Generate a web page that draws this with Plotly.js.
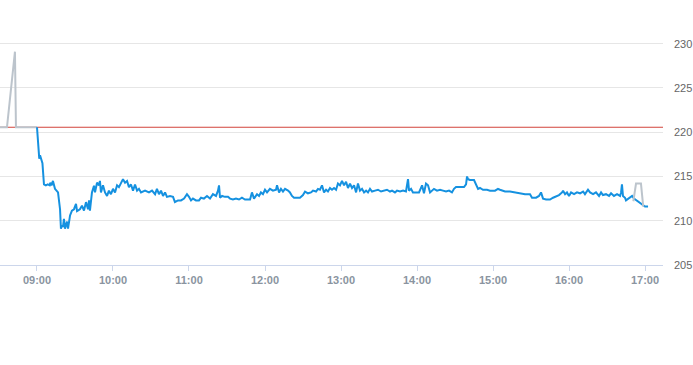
<!DOCTYPE html>
<html>
<head>
<meta charset="utf-8">
<script src="https://cdn.plot.ly/plotly-3.0.1.min.js"></script>
<style>html,body{margin:0;padding:0;background:#fff;}#chart{width:693px;height:365px;}</style>
</head>
<body>
<div id="chart"></div>
<script>
// minutes relative to 09:00
const preMinutes = [-29.2, -23.7, -17.4, -16.6, 0];
const preValues  = [220.56, 220.56, 229.1, 220.56, 220.56];

const postMinutes = [470.8, 472.9, 476.8, 478.6];
const postValues  = [212.2, 214.2, 214.2, 211.6];

const sessionMinutes = [0,0.8,1.8,2.4,3.5,4.3,5.5,7,8.5,10,10.5,11.5,12.6,13.5,14.2,16.6,17.5,18.2,18.9,19.7,20.5,21.3,22.1,23,23.7,24.5,26.1,27.6,29.2,30.8,31.6,33.9,35.5,37.1,38.7,40.3,41.1,41.8,43.4,45,45.8,47.4,48.9,49.7,50.5,52.1,53.7,55.3,56.8,58.4,60,61.6,63.2,64.7,66.3,67.9,69.5,71.1,72.6,74.2,75.8,77.4,79,80.5,82.1,85.3,88.4,90.8,93.2,94.7,96.3,97.9,99.5,101.1,102.6,105,107.4,108.9,111.3,113.7,116.1,118.4,120,121.6,123.1,125.5,
127.9,129.5,131.8,134.2,136.6,138.9,141.3,142.9,143.7,144.5,146.1,148.4,150.8,152.4,154.7,157.1,159.5,161.8,164.2,166.6,168.2,169.7,171.3,173.7,175.3,176.8,178.4,180,181.6,183.9,186.3,188.7,189.5,191.1,192.6,194.2,195.8,198.2,199.7,201.3,202.9,205.3,207.6,210,211.6,213.9,216.3,217.9,220.3,221.8,223.4,225,226.6,228.2,229.7,231.3,232.9,234.5,236.1,237.6,239.2,240.8,242.4,244,245.5,247.1,248.7,250.3,251.9,253.4,255,256.6,258.2,259.8,261.3,262.9,264.5,266.9,269.2,271.6,274,276.3,278.7,280.3,282.6,284.2,286.6,289,291.3,292.1,292.9,293.7,295.3,296.8,299.2,301.6,304,305.5,307.1,308.7,310.3,311.8,313.4,315.8,318.2,320.5,322.9,325.3,327.6,329.2,330.8,334,337.1,338.7,339.5,340.3,341.8,345,346.6,348.2,349.7,352.1,355.3,357.6,361.6,363.9,365.5,369.5,373.4,377.4,381.3,385.3,389.2,390.8,394,396.3,397.9,399.5,401.9,405,407.4,409.8,412.1,414.5,415.3,416.9,418.4,420,421.6,424,426.3,428.7,431.1,432.6,435,436.6,439,441.3,443.7,445.3,446.8,449.2,451.6,453.2,455.5,457.9,460.3,461.1,461.8,462.6,464.2,465,466.6,468.2,469.8,471.3,478.4,480,482.4];
const sessionValues = [220.56,219.0,217.0,217.4,216.9,216.5,214.1,214.0,214.1,214.0,214.3,214.0,214.5,213.9,213.6,213.2,212.3,211.3,209.1,209.5,209.3,210.2,209.1,209.6,209.9,209.1,210.6,211.15,211.3,211.9,211.1,211.3,211.7,211.15,212.1,211.3,212.3,211.15,213.2,213.96,213.2,214.3,214.0,214.5,213.2,214.0,213.2,212.8,213.4,213.0,213.6,213.2,214.0,213.8,214.3,214.7,214.3,214.5,213.8,214.1,213.4,214.1,213.4,213.6,213.2,213.4,213.2,213.4,213.0,213.6,213.0,213.4,212.8,213.2,212.7,212.8,212.7,212.1,212.3,212.3,212.5,213.0,212.7,212.3,212.5,212.3,
212.3,212.6,212.5,212.8,212.5,213.0,212.8,213.4,214.0,212.6,212.8,212.7,212.7,212.5,212.4,212.5,212.4,212.6,212.4,212.4,212.4,213.2,212.5,213.0,212.8,213.2,213.0,213.5,213.2,213.6,213.4,213.5,214.0,213.2,213.6,213.3,213.6,213.4,213.2,212.8,212.6,212.6,212.6,212.9,213.3,213.1,213.2,213.4,213.3,213.6,213.5,214.0,213.2,213.5,213.3,213.7,213.5,213.7,213.5,214.2,214.0,214.5,214.0,214.4,213.7,214.2,213.7,214.0,213.2,214.2,213.4,213.6,213.2,213.4,213.2,213.6,213.3,213.4,213.5,213.3,213.4,213.5,213.3,213.4,213.2,213.4,213.3,213.4,213.3,214.0,214.7,213.4,213.6,213.2,213.2,213.2,214.0,213.1,214.2,214.0,213.2,213.4,213.6,213.4,213.5,213.4,213.3,213.4,213.2,213.6,213.8,213.8,213.8,214.1,215.0,214.7,214.6,214.6,214.0,213.6,213.7,213.5,213.5,213.4,213.4,213.6,213.5,213.3,213.3,213.2,213.1,213.0,213.0,212.6,212.6,212.8,213.2,212.5,212.4,212.4,212.6,212.8,212.9,213.2,213.4,213.0,213.2,212.8,213.2,213.0,213.2,213.1,213.3,213.0,213.5,213.2,213.0,213.2,212.8,213.2,212.9,213.0,212.8,213.1,212.8,213.0,212.8,213.2,214.1,212.8,212.6,212.3,212.5,212.6,212.8,212.5,211.7,211.6,211.6];

const prevClose = 220.56;
const tickMinutes = [0, 60, 120, 180, 240, 300, 360, 420, 480];
const tickLabels = ['09:00','10:00','11:00','12:00','13:00','14:00','15:00','16:00','17:00'];
const yTicks = [205, 210, 215, 220, 225, 230];

function toTime(m) {
  const base = Date.UTC(2024, 0, 2, 9, 0, 0);
  const d = new Date(base + Math.round(m * 60000));
  return d.toISOString().replace('T', ' ').replace('Z', '');
}

const xRange = [toTime(-29.2), toTime(494.2)];

const traces = [
  {
    x: xRange, y: [prevClose, prevClose], mode: 'lines',
    line: {color: '#d2433b', width: 1.2}, hoverinfo: 'skip'
  },
  {
    x: preMinutes.map(toTime), y: preValues, mode: 'lines',
    line: {color: '#bcc4cc', width: 2}
  },
  {
    x: sessionMinutes.map(toTime), y: sessionValues, mode: 'lines',
    line: {color: '#1591e0', width: 2}
  },
  {
    x: postMinutes.map(toTime), y: postValues, mode: 'lines',
    line: {color: '#bcc4cc', width: 2}
  }
];

const layout = {
  width: 693, height: 365,
  margin: {l: 0, r: 30, t: 26, b: 100, pad: 0},
  showlegend: false,
  paper_bgcolor: '#fff', plot_bgcolor: '#fff',
  font: {family: 'Liberation Sans, Arial, sans-serif'},
  xaxis: {
    type: 'date',
    range: xRange,
    tickvals: tickMinutes.map(toTime),
    ticktext: tickLabels,
    showgrid: false,
    showline: true, linecolor: '#ccd6eb', linewidth: 1,
    ticks: 'outside', ticklen: 5, tickcolor: '#ccd6eb',
    tickfont: {size: 11, color: '#8a94a0', family: 'Liberation Sans, Arial, sans-serif', weight: 'bold'},
    zeroline: false, fixedrange: true
  },
  yaxis: {
    side: 'right',
    range: [205, 232],
    tickvals: yTicks,
    ticktext: yTicks.map(String),
    showgrid: true, gridcolor: '#e6e6e6', gridwidth: 1,
    ticks: '', ticklabelstandoff: 10,
    tickfont: {size: 11, color: '#666666', family: 'Liberation Sans, Arial, sans-serif'},
    zeroline: false, showline: false, fixedrange: true
  }
};

Plotly.newPlot('chart', traces, layout, {displayModeBar: false, staticPlot: true});
</script>
</body>
</html>
